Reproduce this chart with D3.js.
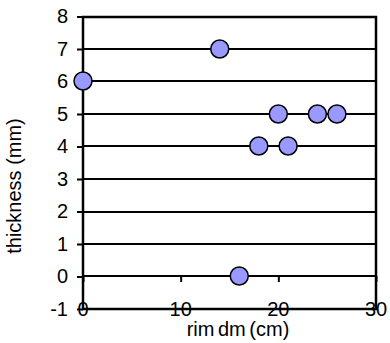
<!DOCTYPE html>
<html><head><meta charset="utf-8">
<script src="https://cdn.jsdelivr.net/npm/d3@7"></script>
<style>body{margin:0;background:#fff}svg{display:block}text{font-family:"Liberation Sans",Arial,sans-serif;fill:#000}</style>
</head><body><svg id="c" width="390" height="343"></svg>
<script>
const rimDm = [0, 14, 20, 24, 26, 18, 21, 16];
const thickness = [6, 7, 5, 5, 5, 4, 4, 0];
const xTicks = [0, 10, 20, 30];
const yTicks = [-1, 0, 1, 2, 3, 4, 5, 6, 7, 8];
const xTitle = "rim dm (cm)";
const yTitle = "thickness (mm)";

const svg = d3.select("#c");
const L = 83, R = 376, T = 16.5, B = 309;
const FS = 20;
const x = d3.scaleLinear().domain([0, 30]).range([L, R]);
const y = d3.scaleLinear().domain([-1, 8]).range([B, T]);
const yr = d => Math.round(y(d));

// gridlines
svg.append("g").selectAll("line").data(yTicks).join("line")
  .attr("x1", L).attr("x2", R).attr("y1", yr).attr("y2", yr)
  .attr("stroke", "#000").attr("stroke-width", 2);

// frame
svg.append("rect").attr("x", L).attr("y", Math.round(T)).attr("width", R - L).attr("height", B - Math.round(T))
  .attr("fill", "none").attr("stroke", "#000").attr("stroke-width", 2.5);

// y axis ticks
const ya = d3.axisLeft(y).tickValues(yTicks).tickSize(6).tickPadding(9).tickFormat(d => String(d));
const gy = svg.append("g").attr("transform", `translate(${L},0)`).call(ya);
gy.select(".domain").remove();
gy.selectAll("line").attr("stroke", "#000").attr("stroke-width", 2);
gy.selectAll("text").attr("font-size", FS).attr("font-family", "Liberation Sans, Arial, sans-serif");

// x axis ticks at y=0 (crossing), labels at bottom
const xa = d3.axisBottom(x).tickValues(xTicks).tickSize(6).tickFormat("");
const gx = svg.append("g").attr("transform", `translate(0,${yr(0)})`).call(xa);
gx.select(".domain").remove();
gx.selectAll("line").attr("stroke", "#000").attr("stroke-width", 2);

svg.append("g").selectAll("text").data(xTicks).join("text")
  .attr("x", d => x(d)).attr("y", B + 7).attr("text-anchor", "middle")
  .attr("font-size", FS).text(d => String(d));

svg.append("text").attr("x", 238).attr("y", 336).attr("text-anchor", "middle")
  .attr("font-size", FS).attr("word-spacing", -2).text(xTitle);
svg.append("text").attr("transform", `translate(21,186) rotate(-90)`)
  .attr("text-anchor", "middle").attr("font-size", FS).text(yTitle);

// points
svg.append("g").selectAll("circle").data(rimDm.map((d, i) => [d, thickness[i]])).join("circle")
  .attr("cx", d => x(d[0])).attr("cy", d => yr(d[1])).attr("r", 9)
  .attr("fill", "#9999ff").attr("stroke", "#000").attr("stroke-width", 1.5);
</script></body></html>
